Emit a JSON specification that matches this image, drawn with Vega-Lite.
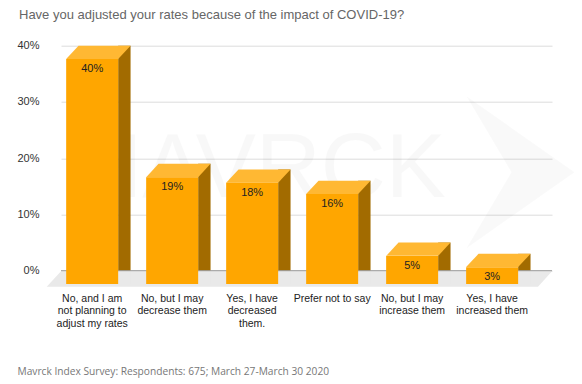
{
  "$schema": "https://vega.github.io/schema/vega-lite/v6.json",
  "width": 491,
  "height": 225,
  "autosize": "none",
  "padding": {"left": 61, "top": 45.7, "right": 30, "bottom": 113.3},
  "background": "white",
  "config": {"view": {"stroke": null}, "font": "Liberation Sans"},
  "title": {
    "text": "Have you adjusted your rates because of the impact of COVID-19?",
    "anchor": "start",
    "frame": "group",
    "dx": -42,
    "offset": 8,
    "baseline": "alphabetic",
    "fontSize": 13,
    "fontWeight": "normal",
    "color": "#666666",
    "font": "Liberation Sans"
  },
  "resolve": {"axis": {"x": "independent", "y": "independent"}},
  "data": {
    "values": [
      {"answer": "No, and I am not planning to adjust my rates", "value": 40, "label": "40%"},
      {"answer": "No, but I may decrease them", "value": 19, "label": "19%"},
      {"answer": "Yes, I have decreased them.", "value": 18, "label": "18%"},
      {"answer": "Prefer not to say", "value": 16, "label": "16%"},
      {"answer": "No, but I may increase them", "value": 5, "label": "5%"},
      {"answer": "Yes, I have increased them", "value": 3, "label": "3%"}
    ]
  },
  "layer": [
    {
      "data": {"values": [{"w": "MAVRCK"}]},
      "mark": {"type": "text", "fontSize": 90, "font": "Liberation Sans", "color": "#000000", "opacity": 0.022, "dx": -50, "dy": 12, "baseline": "middle", "align": "center"},
      "encoding": {"text": {"field": "w"}}
    },
    {
      "data": {"values": [{"w": "arrow"}]},
      "mark": {"type": "point", "shape": "M 160 -62 L 268 14 L 160 90 L 205 14 Z", "size": 4, "filled": true, "fill": "#000000", "strokeWidth": 0, "opacity": 0.025},
      "encoding": {}
    },
    {
      "data": {"values": [{"w": "floor"}]},
      "mark": {"type": "point", "shape": "M -245.5 0.6 L 245.5 0.6 L 231.5 16 L -259.8 16 Z", "size": 4, "filled": true, "fill": "#e9e9e9", "strokeWidth": 0, "opacity": 1},
      "encoding": {"y": {"datum": 0, "type": "quantitative", "axis": null}}
    },
    {
      "mark": {"type": "bar", "width": 12.4, "xOffset": 19.8, "y2Offset": 13.3, "color": "#a26b00"},
      "encoding": {
        "x": {"field": "answer", "type": "nominal", "sort": null, "scale": {"paddingInner": 0.35, "paddingOuter": 0.244, "align": 0.45}, "axis": null},
        "y": {"field": "value", "type": "quantitative", "scale": {"domain": [0, 40], "nice": false}, "axis": null}
      }
    },
    {
      "mark": {"type": "point", "shape": "M 26 0 L 26 13.3 L 13.6 13.3 Z", "size": 4, "filled": true, "fill": "#e9e9e9", "strokeWidth": 0, "opacity": 1},
      "encoding": {
        "x": {"field": "answer", "type": "nominal", "sort": null, "axis": null},
        "y": {"datum": 0, "type": "quantitative", "axis": null}
      }
    },
    {
      "data": {"values": [{"w": "baseline"}]},
      "mark": {"type": "rule", "color": "#9a9a9a", "strokeWidth": 1},
      "encoding": {"y": {"datum": 0, "type": "quantitative", "axis": null}}
    },
    {
      "mark": {"type": "point", "shape": "M -26 0 L 26 0 L 13.6 13.3 L -38.4 13.3 Z", "size": 4, "filled": true, "fill": "#ffb833", "strokeWidth": 0, "opacity": 1},
      "encoding": {
        "x": {"field": "answer", "type": "nominal", "sort": null, "axis": null},
        "y": {"field": "value", "type": "quantitative", "axis": null}
      }
    },
    {
      "mark": {"type": "bar", "xOffset": -12.4, "yOffset": 13.3, "y2Offset": 13.3, "color": "#ffa600"},
      "encoding": {
        "x": {
          "field": "answer",
          "type": "nominal",
          "sort": null,
          "axis": {
            "title": "Mavrck Index Survey: Respondents: 675; March 27-March 30 2020",
            "titleFont": "Open Sans",
            "titleFontSize": 10.2,
            "titleFontWeight": "normal",
            "titleColor": "#777777",
            "titleAnchor": "start",
            "titleAlign": "left",
            "titleX": -44,
            "titleY": 103.5,
            "titleBaseline": "alphabetic",
            "domain": false,
            "ticks": false,
            "grid": false,
            "labelAngle": 0,
            "labelOffset": -12.4,
            "labelPadding": 23,
            "labelBaseline": "top",
            "labelFontSize": 10.5,
            "labelColor": "#222222",
            "labelLineHeight": 12.3,
            "labelLimit": 0,
            "labelExpr": "datum.value == 'No, and I am not planning to adjust my rates' ? ['No, and I am', 'not planning to', 'adjust my rates'] : datum.value == 'No, but I may decrease them' ? ['No, but I may', 'decrease them'] : datum.value == 'Yes, I have decreased them.' ? ['Yes, I have', 'decreased', 'them.'] : datum.value == 'No, but I may increase them' ? ['No, but I may', 'increase them'] : datum.value == 'Yes, I have increased them' ? ['Yes, I have', 'increased them'] : datum.value"
          }
        },
        "y": {
          "field": "value",
          "type": "quantitative",
          "axis": {
            "values": [0, 10, 20, 30, 40],
            "labelExpr": "datum.value + '%'",
            "domain": false,
            "ticks": false,
            "labelPadding": 22,
            "labelFontSize": 11,
            "labelColor": "#333333",
            "grid": true,
            "gridColor": "#dcdcdc",
            "title": null
          }
        }
      }
    },
    {
      "mark": {"type": "text", "dx": -12.4, "dy": 23.3, "baseline": "middle", "align": "center", "fontSize": 11, "color": "#222222"},
      "encoding": {
        "x": {"field": "answer", "type": "nominal", "sort": null, "axis": null},
        "y": {"field": "value", "type": "quantitative", "axis": null},
        "text": {"field": "label"}
      }
    }
  ]
}
